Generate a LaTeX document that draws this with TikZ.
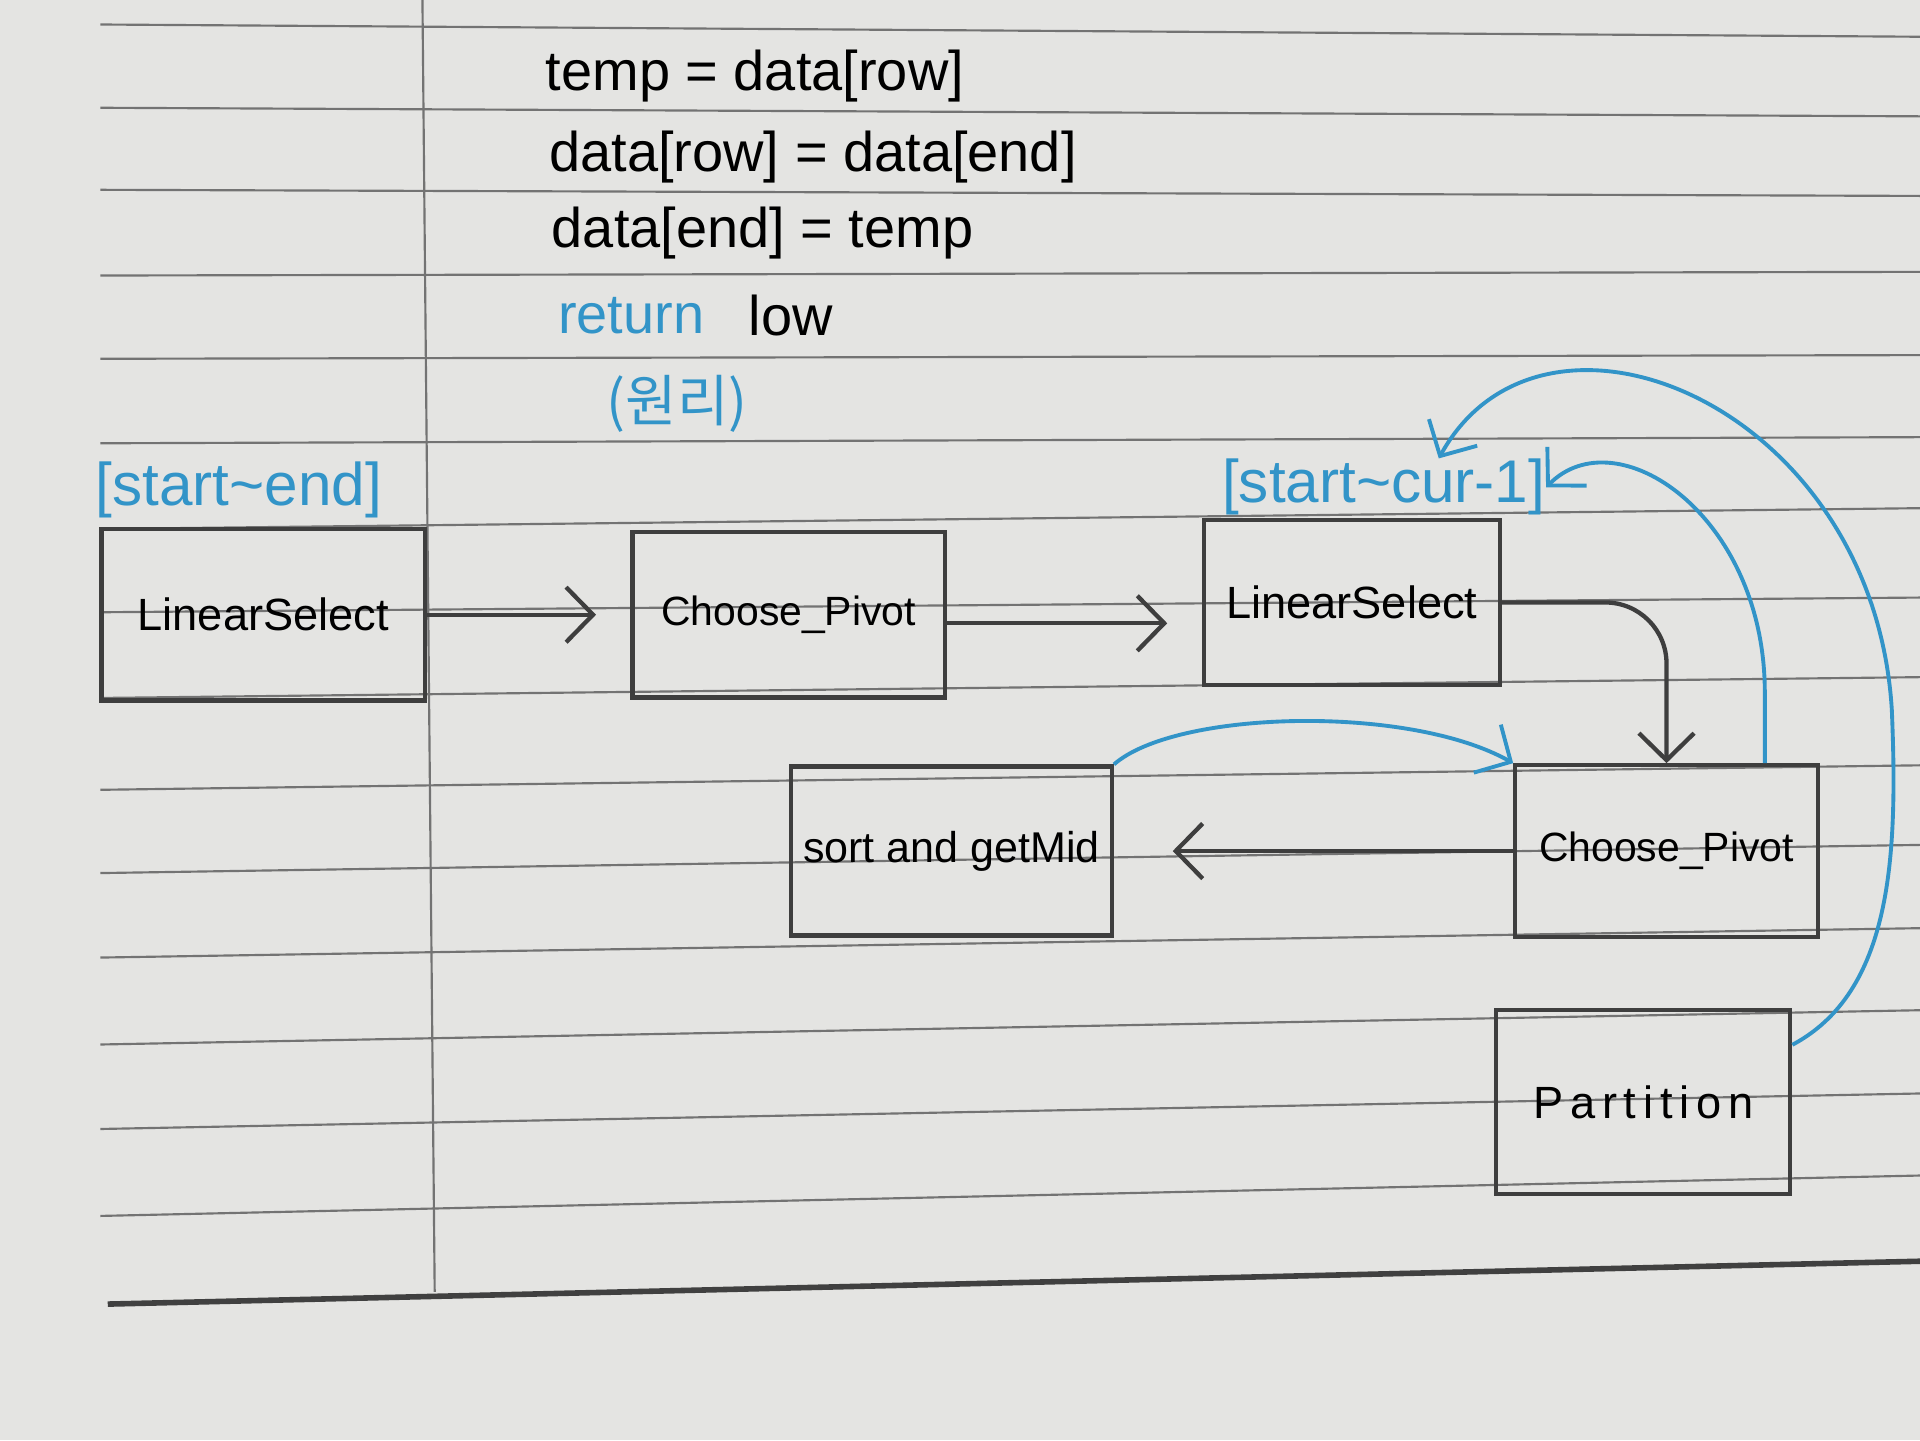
\documentclass[tikz,border=0pt]{standalone}
\usepackage{fontspec}
\setmainfont{Liberation Sans}
\newfontfamily\krfont{Noto Sans CJK KR}
\usetikzlibrary{arrows.meta,positioning}

\definecolor{ink}{RGB}{50,148,200}
\definecolor{pencil}{RGB}{62,62,62}
\definecolor{paper}{RGB}{228,228,226}

\begin{document}
\begin{tikzpicture}[
  x=0.1mm, y=-0.1mm,
  font=\fontsize{10.5}{12}\selectfont,
  func/.style={
    draw=pencil,
    line width=1pt,
    minimum width=2.6cm,
    minimum height=1.4cm,
    inner sep=2pt
  },
  rangelbl/.style={
    text=ink,
    inner sep=0pt,
    font=\fontsize{14}{16}\selectfont
  },
  code/.style={
    anchor=west,
    inner sep=0pt,
    font=\fontsize{13}{15}\selectfont
  },
  rule/.style={black!55, line width=0.5pt},
  flow/.style={-{Straight Barb[length=2.2mm,width=4.5mm]}, draw=pencil, line width=1pt},
  back/.style={-{Straight Barb[length=2.2mm,width=4.5mm]}, draw=ink, line width=0.9pt}
]

% Paper
\useasboundingbox (0,0) rectangle (1568,1176);
\fill[paper] (0,0) rectangle (1568,1176);
\foreach \yl/\yr in {20/30, 88/95, 155/160, 225/222, 293/290, 362/357, 432/415,
  500/488, 570/553, 645/625, 713/690, 782/758, 853/825, 922/893, 993/960}
  \draw[rule] (82,\yl) -- (1568,\yr);
\draw[rule, black!75, line width=1.3pt] (88,1065) -- (1568,1030);
\draw[rule] (345,0) -- (355,1055);

% Swap code
\node[code] (l1) at (445,62) {temp = data[row]};
\node[code] (l2) at (448,128) {data[row] = data[end]};
\node[code] (l3) at (450,190) {data[end] = temp};
\node[code, text=ink] (l4) at (455,258) {return};
\node[code, right=3.5mm of l4] (l5) {low};
\node[code, text=ink] (note) at (495,330) {\krfont (원리)};

% Call chain
\node[func, minimum width=2.64cm] (ls1) at (215,502) {LinearSelect};
\node[func, minimum width=2.55cm, minimum height=1.35cm, right=1.66cm of ls1,
  font=\fontsize{9.5}{11}\selectfont] (cp1) {Choose\_Pivot};
\node[func, minimum width=2.42cm, minimum height=1.35cm] (ls2) at (1104,492) {LinearSelect};
\node[func, minimum width=2.47cm, font=\fontsize{9.5}{11}\selectfont] (cp2) at (1361,695) {Choose\_Pivot};
\node[func, minimum width=2.62cm, minimum height=1.38cm, left=3.26cm of cp2,
  font=\fontsize{10}{12}\selectfont] (sg) {sort and getMid};
\node[func, minimum width=2.4cm, minimum height=1.5cm] (part) at (1342,900)
  {\addfontfeature{LetterSpace=15}Partition};

% Ranges
\node[rangelbl] (lbl1) at (195,400) {[start\textasciitilde end]};
\node[rangelbl] (lbl2) at (1130,398) {[start\textasciitilde cur-1]};

% Calls
\draw[flow, shorten >=2.8mm] (ls1) -- (cp1);
\draw[flow, shorten >=2.8mm] ([yshift=-0.7mm]cp1.east) -- ([yshift=-0.7mm]cp1.east -| ls2.west);
\draw[flow, rounded corners=5mm] (ls2.east) -| (cp2.north);
\draw[flow, shorten >=4.8mm] (cp2.west) -- (cp2.west -| sg.east);

% Returns
\draw[back] (sg.north east) .. controls (960,580) and (1150,575) .. (cp2.north west);
\draw[back] ([xshift=-4.5mm]cp2.north east) -- ++(0,-60)
  .. controls (1440,420) and (1320,340) .. (lbl2.east);
\draw[back] ([yshift=-3mm]part.north east) .. controls (1545,810) and (1550,700) .. (1545,580)
  .. controls (1530,330) and (1260,220) .. ([xshift=4.5mm]lbl2.north);

\end{tikzpicture}
\end{document}
